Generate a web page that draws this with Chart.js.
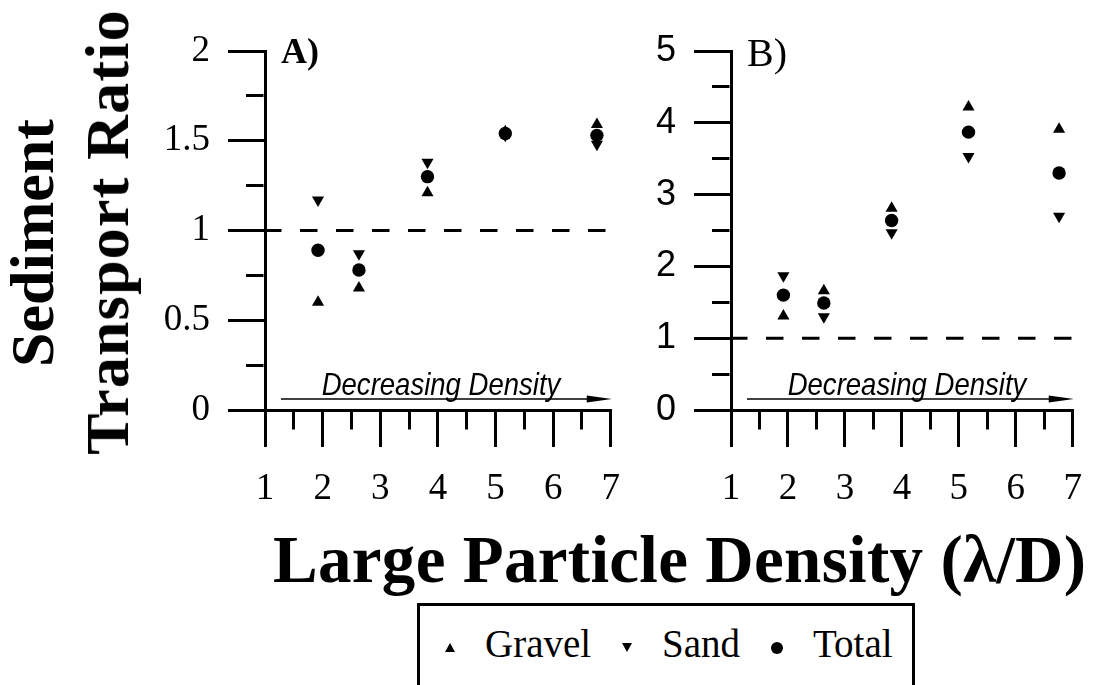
<!DOCTYPE html>
<html>
<head>
<meta charset="utf-8">
<title>Sediment Transport Ratio</title>
<script src="https://cdn.jsdelivr.net/npm/chart.js@4.4.1/dist/chart.umd.min.js"></script>
<style>
  body { margin: 0; background: #fff; }
  #page { position: relative; width: 1102px; height: 685px; overflow: hidden; background: #fff; }
  #panelA { position: absolute; left: 140px; top: 0; }
  #panelB { position: absolute; left: 650px; top: 0; }
  .ytitle { position: absolute; font: bold 62px 'Liberation Serif', serif; line-height: 62px; white-space: nowrap; transform: translate(-50%, -50%) rotate(-90deg); }
  #xtitle { position: absolute; left: 273px; top: 526px; font: bold 67px 'Liberation Serif', serif; line-height: 67px; white-space: nowrap; letter-spacing: 0.3px; }
  #legend { position: absolute; left: 417px; top: 603px; width: 492px; height: 120px; border: 3px solid #000; }
  .lbl { position: absolute; top: 624px; font: 39px 'Liberation Serif', serif; line-height: 39px; white-space: nowrap; }
  .up { position: absolute; width: 0; height: 0; border-left: 5.5px solid transparent; border-right: 5.5px solid transparent; border-bottom: 9px solid #000; }
  .down { position: absolute; width: 0; height: 0; border-left: 5.5px solid transparent; border-right: 5.5px solid transparent; border-top: 9px solid #000; }
  .dot { position: absolute; width: 12px; height: 12px; border-radius: 50%; background: #000; }
</style>
</head>
<body>
<div id="page">
  <canvas id="panelA" width="500" height="530"></canvas>
  <canvas id="panelB" width="452" height="530"></canvas>

  <div class="ytitle" style="left:32px; top:243px;">Sediment</div>
  <div class="ytitle" style="left:107px; top:232px; letter-spacing:1.2px;">Transport Ratio</div>
  <div id="xtitle">Large Particle Density (&lambda;/D)</div>

  <div id="legend"></div>
  <div class="up" style="left:444.5px; top:643px;"></div>
  <div class="lbl" style="left:485px;">Gravel</div>
  <div class="down" style="left:621.5px; top:643px;"></div>
  <div class="lbl" style="left:662px;">Sand</div>
  <div class="dot" style="left:771px; top:642px;"></div>
  <div class="lbl" style="left:813px;">Total</div>
</div>

<script>
// large particle density (lambda/D) of each run
const densities = [1.92, 2.63, 3.82, 5.17, 6.76];

// panel A
const gravelA = [0.60, 0.68, 1.21, 1.55, 1.59];
const sandA   = [1.17, 0.87, 1.38, 1.53, 1.48];
const totalA  = [0.89, 0.78, 1.30, 1.54, 1.53];

// panel B
const gravelB = [1.31, 1.66, 2.81, 4.22, 3.91];
const sandB   = [1.87, 1.30, 2.47, 3.53, 2.70];
const totalB  = [1.60, 1.49, 2.64, 3.87, 3.30];

const refLevel = 1;      // dashed line, ratio = 1
const xRange = [1, 7];

const SERIF = "'Liberation Serif', 'Times New Roman', serif";
const SANS = "'Liberation Sans', Arial, sans-serif";

function pairs(values) {
  return densities.map((x, i) => ({ x: x, y: values[i] }));
}

// panel letter + "Decreasing Density" arrow, placed relative to the plot area
const annotate = {
  id: 'annotate',
  afterDatasetsDraw(chart, args, opts) {
    const ctx = chart.ctx;
    const a = chart.chartArea;
    ctx.save();
    ctx.fillStyle = '#000';
    ctx.strokeStyle = '#000';

    ctx.font = opts.panelFont;
    ctx.textAlign = 'left';
    ctx.textBaseline = 'alphabetic';
    ctx.fillText(opts.panel, a.left + 16, a.top + opts.panelDy);

    const y = a.bottom - 11;
    const x0 = a.left + 16;
    const x1 = a.right + 1;
    ctx.lineWidth = 1.7;
    ctx.beginPath();
    ctx.moveTo(x0, y);
    ctx.lineTo(x1 - 20, y);
    ctx.stroke();
    ctx.beginPath();
    ctx.moveTo(x1, y);
    ctx.lineTo(x1 - 25, y - 3.5);
    ctx.lineTo(x1 - 25, y + 3.5);
    ctx.closePath();
    ctx.fill();

    ctx.translate(a.left + 176, a.bottom - 15);
    ctx.scale(0.86, 1);
    ctx.font = 'italic 32px ' + SANS;
    ctx.textAlign = 'center';
    ctx.fillText('Decreasing Density', 0, 0);
    ctx.restore();
  }
};

function renderPanel(canvasId, o) {
  const ctx = document.getElementById(canvasId).getContext('2d');
  const pointBase = { pointBackgroundColor: '#000', pointBorderWidth: 0, showLine: false };

  return new Chart(ctx, {
    type: 'scatter',
    data: {
      datasets: [
        {
          label: 'ref',
          data: [{ x: xRange[0], y: refLevel }, { x: xRange[1], y: refLevel }],
          showLine: true,
          borderColor: '#000',
          borderWidth: 3,
          borderDash: [17.5, 18.5],
          borderDashOffset: 1,
          pointRadius: 0
        },
        Object.assign({ label: 'Gravel', data: pairs(o.gravel), pointStyle: 'triangle', pointRadius: 7 }, pointBase),
        Object.assign({ label: 'Sand', data: pairs(o.sand), pointStyle: 'triangle', pointRotation: 180, pointRadius: 7 }, pointBase),
        Object.assign({ label: 'Total', data: pairs(o.total), pointStyle: 'circle', pointRadius: 6.7 }, pointBase)
      ]
    },
    options: {
      responsive: false,
      animation: false,
      events: [],
      clip: false,
      layout: { padding: { left: 0, top: 51, right: o.padRight, bottom: 0 } },
      plugins: {
        legend: { display: false },
        tooltip: { enabled: false },
        annotate: { panel: o.panel, panelFont: o.panelFont, panelDy: o.panelDy }
      },
      scales: {
        x: {
          type: 'linear',
          min: xRange[0],
          max: xRange[1],
          afterFit: s => { s.height = 120; },
          border: { display: true, color: '#000', width: 3 },
          grid: {
            drawOnChartArea: false,
            lineWidth: 3,
            tickLength: 37,
            tickWidth: 3,
            tickColor: '#000',
            tickBorderDash: c => Number.isInteger(c.tick.value) ? [] : [17.5, 200]
          },
          ticks: {
            stepSize: 0.5,
            autoSkip: false,
            maxRotation: 0,
            padding: 20,
            color: '#000',
            font: { family: SERIF, size: 37 },
            callback: v => Number.isInteger(v) ? String(v) : ''
          }
        },
        y: {
          type: 'linear',
          min: 0,
          max: o.yMax,
          afterFit: s => { s.width = o.yWidth; },
          border: { display: true, color: '#000', width: 3 },
          grid: {
            drawOnChartArea: false,
            lineWidth: 3,
            tickLength: 37,
            tickWidth: 3,
            tickColor: '#000',
            tickBorderDash: c => o.isMajor(c.tick.value) ? [] : [0, 18, 17.5, 200]
          },
          ticks: {
            stepSize: o.yStep,
            autoSkip: false,
            padding: 18,
            color: '#000',
            font: { family: o.yFont, size: o.yFontSize },
            callback: v => o.isMajor(v) ? String(v) : ''
          }
        }
      }
    },
    plugins: [annotate]
  });
}

renderPanel('panelA', {
  gravel: gravelA, sand: sandA, total: totalA,
  yMax: 2, yStep: 0.25, isMajor: v => Number.isInteger(v * 2),
  yFont: SERIF, yFontSize: 37, yWidth: 125, padRight: 17,
  panel: 'A)', panelFont: 'bold 36px ' + SERIF, panelDy: 12
});

renderPanel('panelB', {
  gravel: gravelB, sand: sandB, total: totalB,
  yMax: 5, yStep: 0.5, isMajor: v => Number.isInteger(v),
  yFont: SANS, yFontSize: 36, yWidth: 81, padRight: 12,
  panel: 'B)', panelFont: '40px ' + SERIF, panelDy: 15
});
</script>
</body>
</html>
